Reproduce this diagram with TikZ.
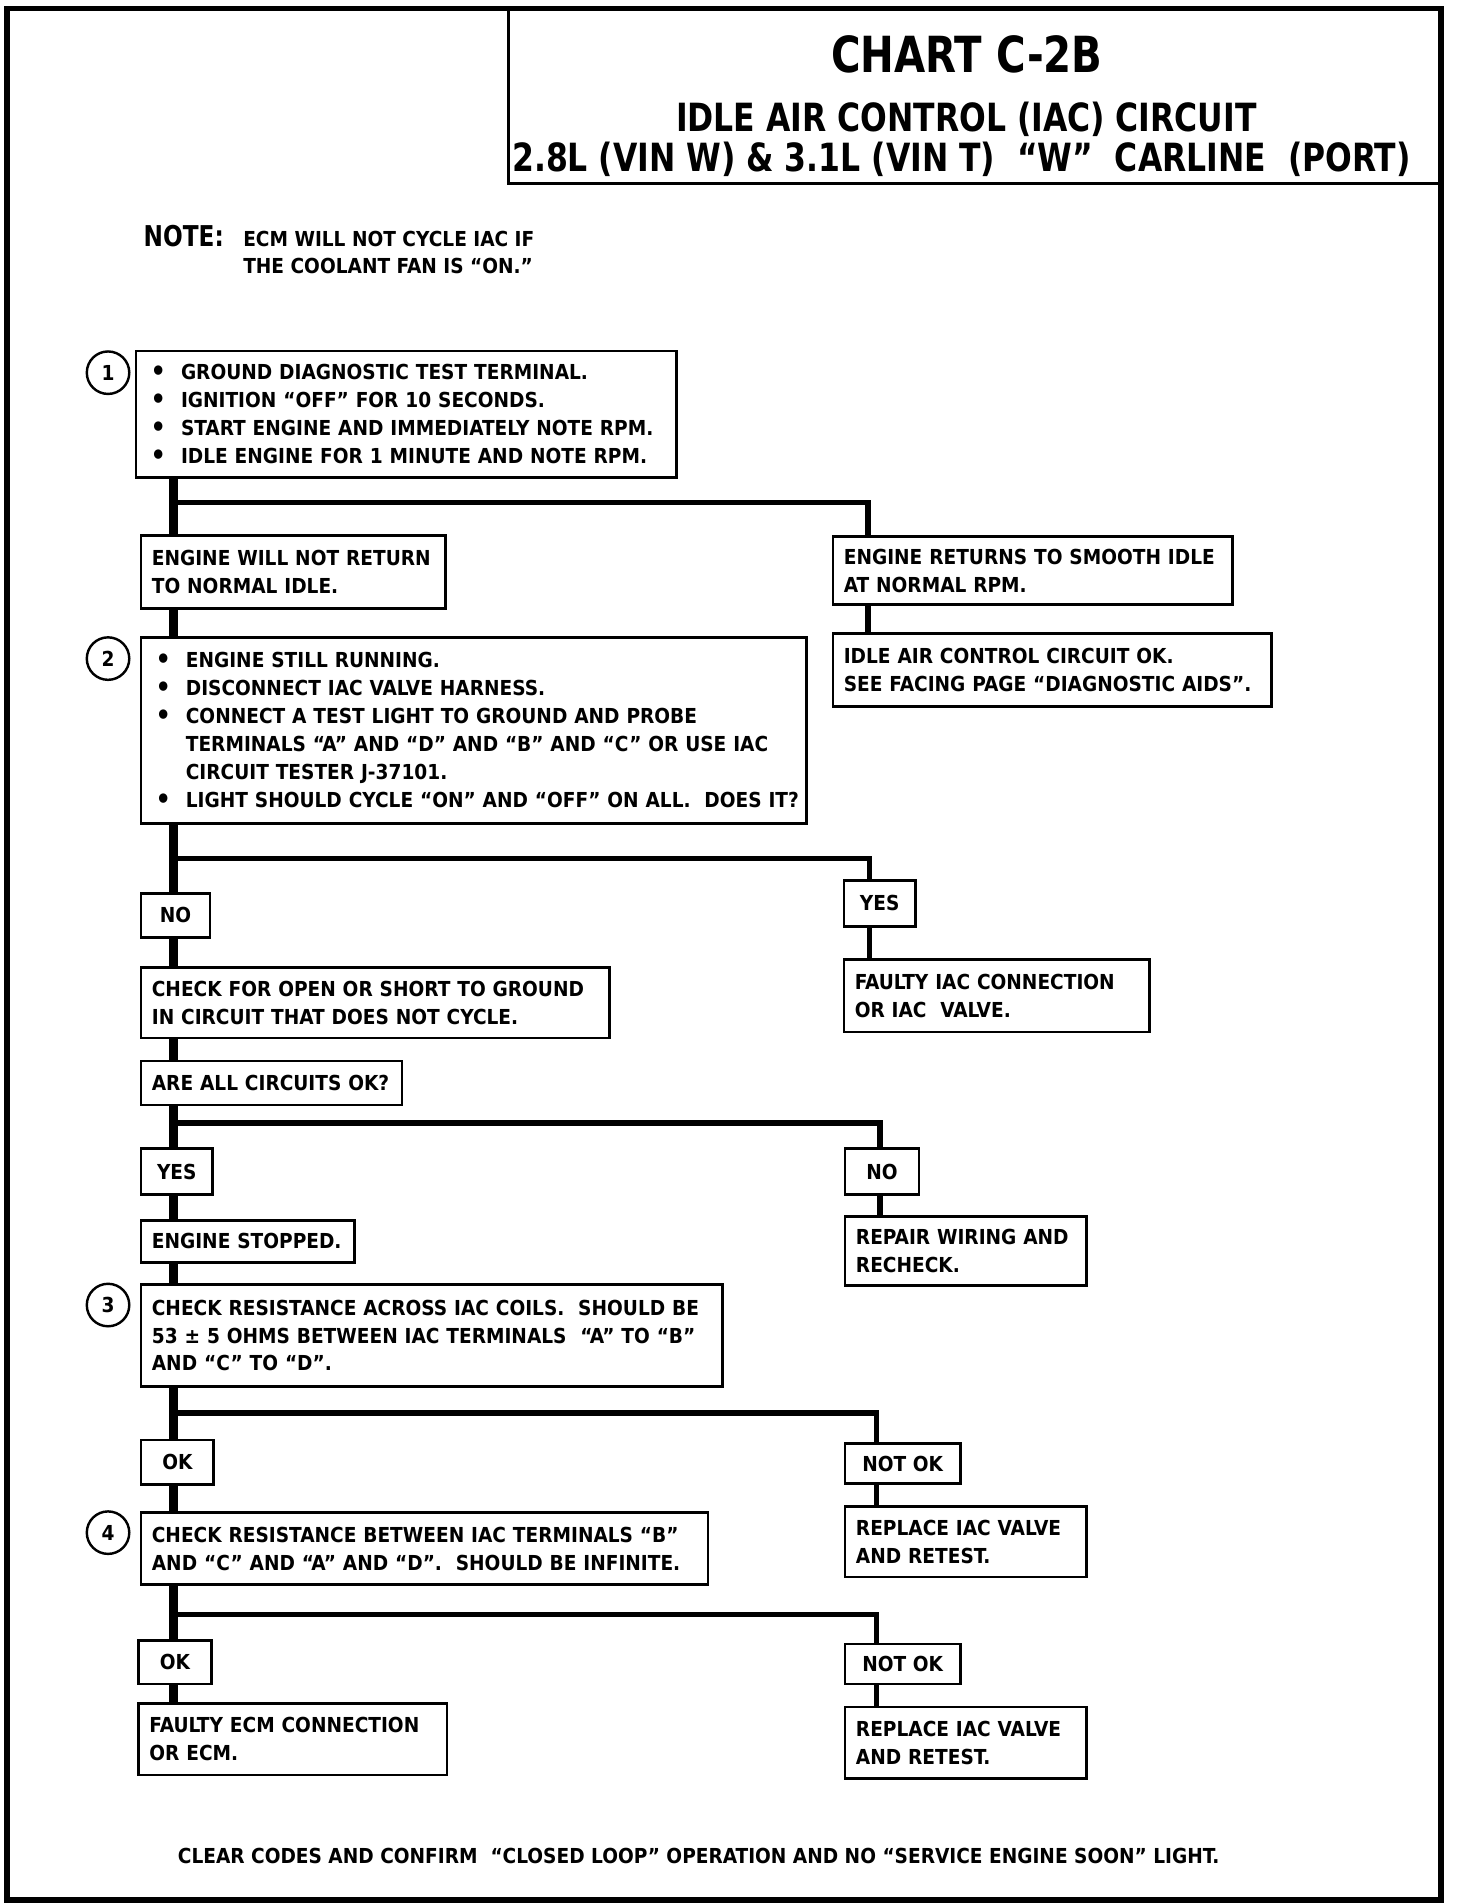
\documentclass[tikz,border=0pt]{standalone}
\usepackage{fontspec}
\newfontfamily\chartfont{DejaVu Sans Condensed Bold}
\newfontfamily\headfont{DejaVu Sans Condensed Bold}[FakeStretch=0.9]
\newcommand{\bodyfont}{\chartfont\fontsize{8.5}{11.5}\selectfont}
\newcommand{\bitem}[1]{\mbox{\makebox[12.5pt][l]{\raisebox{-0.4pt}{\fontsize{11}{11}\selectfont •}}#1}}
\newcommand{\bindent}[1]{\mbox{\hspace*{12.5pt}#1}}

\begin{document}
\begin{tikzpicture}[x=0.5pt, y=-0.5pt]
	    \tikzset{
	      box/.style={draw, line width=1.1pt, anchor=north west, align=left,
	        inner xsep=4.5pt, inner ysep=0pt, font=\bodyfont},
	      listbox/.style={box, inner xsep=6pt},
	      tag/.style={draw, line width=1.1pt, anchor=north west, inner sep=0pt, font=\bodyfont},
	      trunk/.style={line width=3.4pt},
	      branch/.style={line width=2.2pt},
	      stepnum/.style={draw, circle, line width=1pt, minimum size=17.5pt, inner sep=0pt, font=\bodyfont},
	    }
	    \useasboundingbox (0,0) rectangle (1199.4,1568.4);
	    % frame and heading
	    \draw [line width=2.4pt] (6,7) rectangle (1187,1565);
	    \node [draw, line width=1.2pt, anchor=north west, inner sep=0pt,
	      minimum width=384.5pt, minimum height=71.5pt] (title) at (418,7) {};
	    \node [anchor=base, font=\headfont\fontsize{20.5}{22}\selectfont] (chart) at (796.5,60) {CHART C-2B};
	    \node [anchor=base, font=\headfont\fontsize{16}{18}\selectfont] (circuit) at (796,108) {IDLE AIR CONTROL (IAC) CIRCUIT};
	    \node [anchor=base, font=\headfont\fontsize{16}{18}\selectfont] (carline) at (792,141) {2.8L (VIN W) \& 3.1L (VIN T)\ \ “W”\ \ CARLINE\ \ (PORT)};
	    \node [anchor=base west, inner sep=0pt, font=\headfont\fontsize{11.8}{13}\selectfont] (note) at (118,203) {NOTE:};
	    \node [anchor=north west, align=left, inner sep=0pt, font=\chartfont\fontsize{8.5}{11}\selectfont] (notetext) at (200,190)
	      {ECM WILL NOT CYCLE IAC IF\\THE COOLANT FAN IS “ON.”};

	    % step 1
	    \node [stepnum] (s1) at (89,307) {1};
	    \node [listbox, text width=210.5pt, minimum height=52pt] (b1) at (111,288)
	      {\bitem{GROUND DIAGNOSTIC TEST TERMINAL.}\\
	       \bitem{IGNITION “OFF” FOR 10 SECONDS.}\\
	       \bitem{START ENGINE AND IMMEDIATELY NOTE RPM.}\\
	       \bitem{IDLE ENGINE FOR 1 MINUTE AND NOTE RPM.}};
	    \node [box, text width=116.5pt, minimum height=30pt] (notret) at (115,440)
	      {ENGINE WILL NOT RETURN\\TO NORMAL IDLE.};
	    \node [box, text width=155.5pt, minimum height=28pt] (smooth) at (685,441)
	      {ENGINE RETURNS TO SMOOTH IDLE\\AT NORMAL RPM.};
	    \node [box, text width=171.5pt, minimum height=30pt] (circok) at (685,521)
	      {IDLE AIR CONTROL CIRCUIT OK.\\\mbox{SEE FACING PAGE “DIAGNOSTIC AIDS”.}};

	    % step 2
	    \node [stepnum] (s2) at (89,542.5) {2};
	    \node [listbox, text width=262pt, minimum height=76.5pt] (b2) at (115,524)
	      {\bitem{ENGINE STILL RUNNING.}\\
	       \bitem{DISCONNECT IAC VALVE HARNESS.}\\
	       \bitem{CONNECT A TEST LIGHT TO GROUND AND PROBE}\\
	       \bindent{TERMINALS “A” AND “D” AND “B” AND “C” OR USE IAC}\\
	       \bindent{CIRCUIT TESTER J-37101.}\\
	       \bitem{LIGHT SHOULD CYCLE “ON” AND “OFF” ON ALL.\ \ DOES IT?}};
	    \node [tag, minimum width=28.5pt, minimum height=18pt] (no2) at (115,735) {NO};
	    \node [tag, minimum width=29.5pt, minimum height=19pt] (yes2) at (694,724) {YES};
	    \node [box, text width=117pt, minimum height=30pt] (faulty) at (694,789)
	      {FAULTY IAC CONNECTION\\OR IAC\ \ VALVE.};
	    \node [box, text width=184pt, minimum height=29pt] (openshort) at (115,796)
	      {CHECK FOR OPEN OR SHORT TO GROUND\\IN CIRCUIT THAT DOES NOT CYCLE.};
	    \node [box, text width=98.5pt, minimum height=18pt] (allok) at (115,873)
	      {ARE ALL CIRCUITS OK?};
	    \node [tag, minimum width=29.5pt, minimum height=19pt] (yes3) at (115,945) {YES};
	    \node [tag, minimum width=30.5pt, minimum height=19pt] (no3) at (695,945) {NO};
	    \node [box, text width=90.5pt, minimum height=28.5pt] (repair) at (695,1001)
	      {REPAIR WIRING AND\\RECHECK.};
	    \node [box, text width=79pt, minimum height=17.5pt] (stopped) at (115,1004)
	      {ENGINE STOPPED.};

	    % step 3
	    \node [stepnum] (s3) at (89,1075) {3};
	    \node [box, text width=230.5pt, minimum height=42pt] (b3) at (115,1057)
	      {CHECK RESISTANCE ACROSS IAC COILS.\ \ SHOULD BE\\
	       53 ± 5 OHMS BETWEEN IAC TERMINALS\ \ “A” TO “B”\\
	       AND “C” TO “D”.};
	    \node [tag, minimum width=30pt, minimum height=18.5pt] (ok3) at (115,1185) {OK};
	    \node [tag, minimum width=47.5pt, minimum height=16.5pt] (notok3) at (695,1188) {NOT OK};
	    \node [box, text width=90.5pt, minimum height=29pt] (replace3) at (695,1240)
	      {REPLACE IAC VALVE\\AND RETEST.};

	    % step 4
	    \node [stepnum] (s4) at (89,1262.5) {4};
	    \node [box, text width=224.5pt, minimum height=29.5pt] (b4) at (115,1245)
	      {CHECK RESISTANCE BETWEEN IAC TERMINALS “B”\\
	       AND “C” AND “A” AND “D”.\ \ SHOULD BE INFINITE.};
	    \node [tag, minimum width=30pt, minimum height=18pt] (ok4) at (113,1350) {OK};
	    \node [tag, minimum width=47.5pt, minimum height=16.5pt] (notok4) at (695,1353) {NOT OK};
	    \node [box, text width=90.5pt, minimum height=29.5pt] (replace4) at (695,1405)
	      {REPLACE IAC VALVE\\AND RETEST.};
	    \node [box, text width=118pt, minimum height=29.5pt] (ecm) at (113,1402)
	      {FAULTY ECM CONNECTION\\OR ECM.};

	    \node [anchor=base, font=\bodyfont] (clear) at (575.5,1535)
	      {CLEAR CODES AND CONFIRM\ \ “CLOSED LOOP” OPERATION AND NO “SERVICE ENGINE SOON” LIGHT.};

	    % connectors
	    \coordinate (t) at (143,0);
	    \coordinate (j1) at (715,414);
	    \coordinate (j2) at (716,707);
	    \coordinate (j3) at (725,925);
	    \coordinate (j4) at (722,1164);
	    \coordinate (j5) at (722,1330);
	    \draw [trunk] (b1.south -| t) -- (notret.north -| t);
	    \draw [branch] (j1 -| t) -- (j1) -- (j1 |- smooth.north);
	    \draw [branch] (smooth.south -| j1) -- (circok.north -| j1);
	    \draw [trunk] (notret.south -| t) -- (b2.north -| t);
	    \draw [trunk] (b2.south -| t) -- (no2.north -| t);
	    \draw [branch] (j2 -| t) -- (j2) -- (j2 |- yes2.north);
	    \draw [branch] (yes2.south -| j2) -- (faulty.north -| j2);
	    \draw [trunk] (no2.south -| t) -- (openshort.north -| t);
	    \draw [trunk] (openshort.south -| t) -- (allok.north -| t);
	    \draw [trunk] (allok.south -| t) -- (yes3.north -| t);
	    \draw [branch] (j3 -| t) -- (j3) -- (j3 |- no3.north);
	    \draw [branch] (no3.south -| j3) -- (repair.north -| j3);
	    \draw [trunk] (yes3.south -| t) -- (stopped.north -| t);
	    \draw [trunk] (stopped.south -| t) -- (b3.north -| t);
	    \draw [trunk] (b3.south -| t) -- (ok3.north -| t);
	    \draw [branch] (j4 -| t) -- (j4) -- (j4 |- notok3.north);
	    \draw [branch] (notok3.south -| j4) -- (replace3.north -| j4);
	    \draw [trunk] (ok3.south -| t) -- (b4.north -| t);
	    \draw [trunk] (b4.south -| t) -- (ok4.north -| t);
	    \draw [branch] (j5 -| t) -- (j5) -- (j5 |- notok4.north);
	    \draw [branch] (notok4.south -| j5) -- (replace4.north -| j5);
	    \draw [trunk] (ok4.south -| t) -- (ecm.north -| t);
\end{tikzpicture}
\end{document}
